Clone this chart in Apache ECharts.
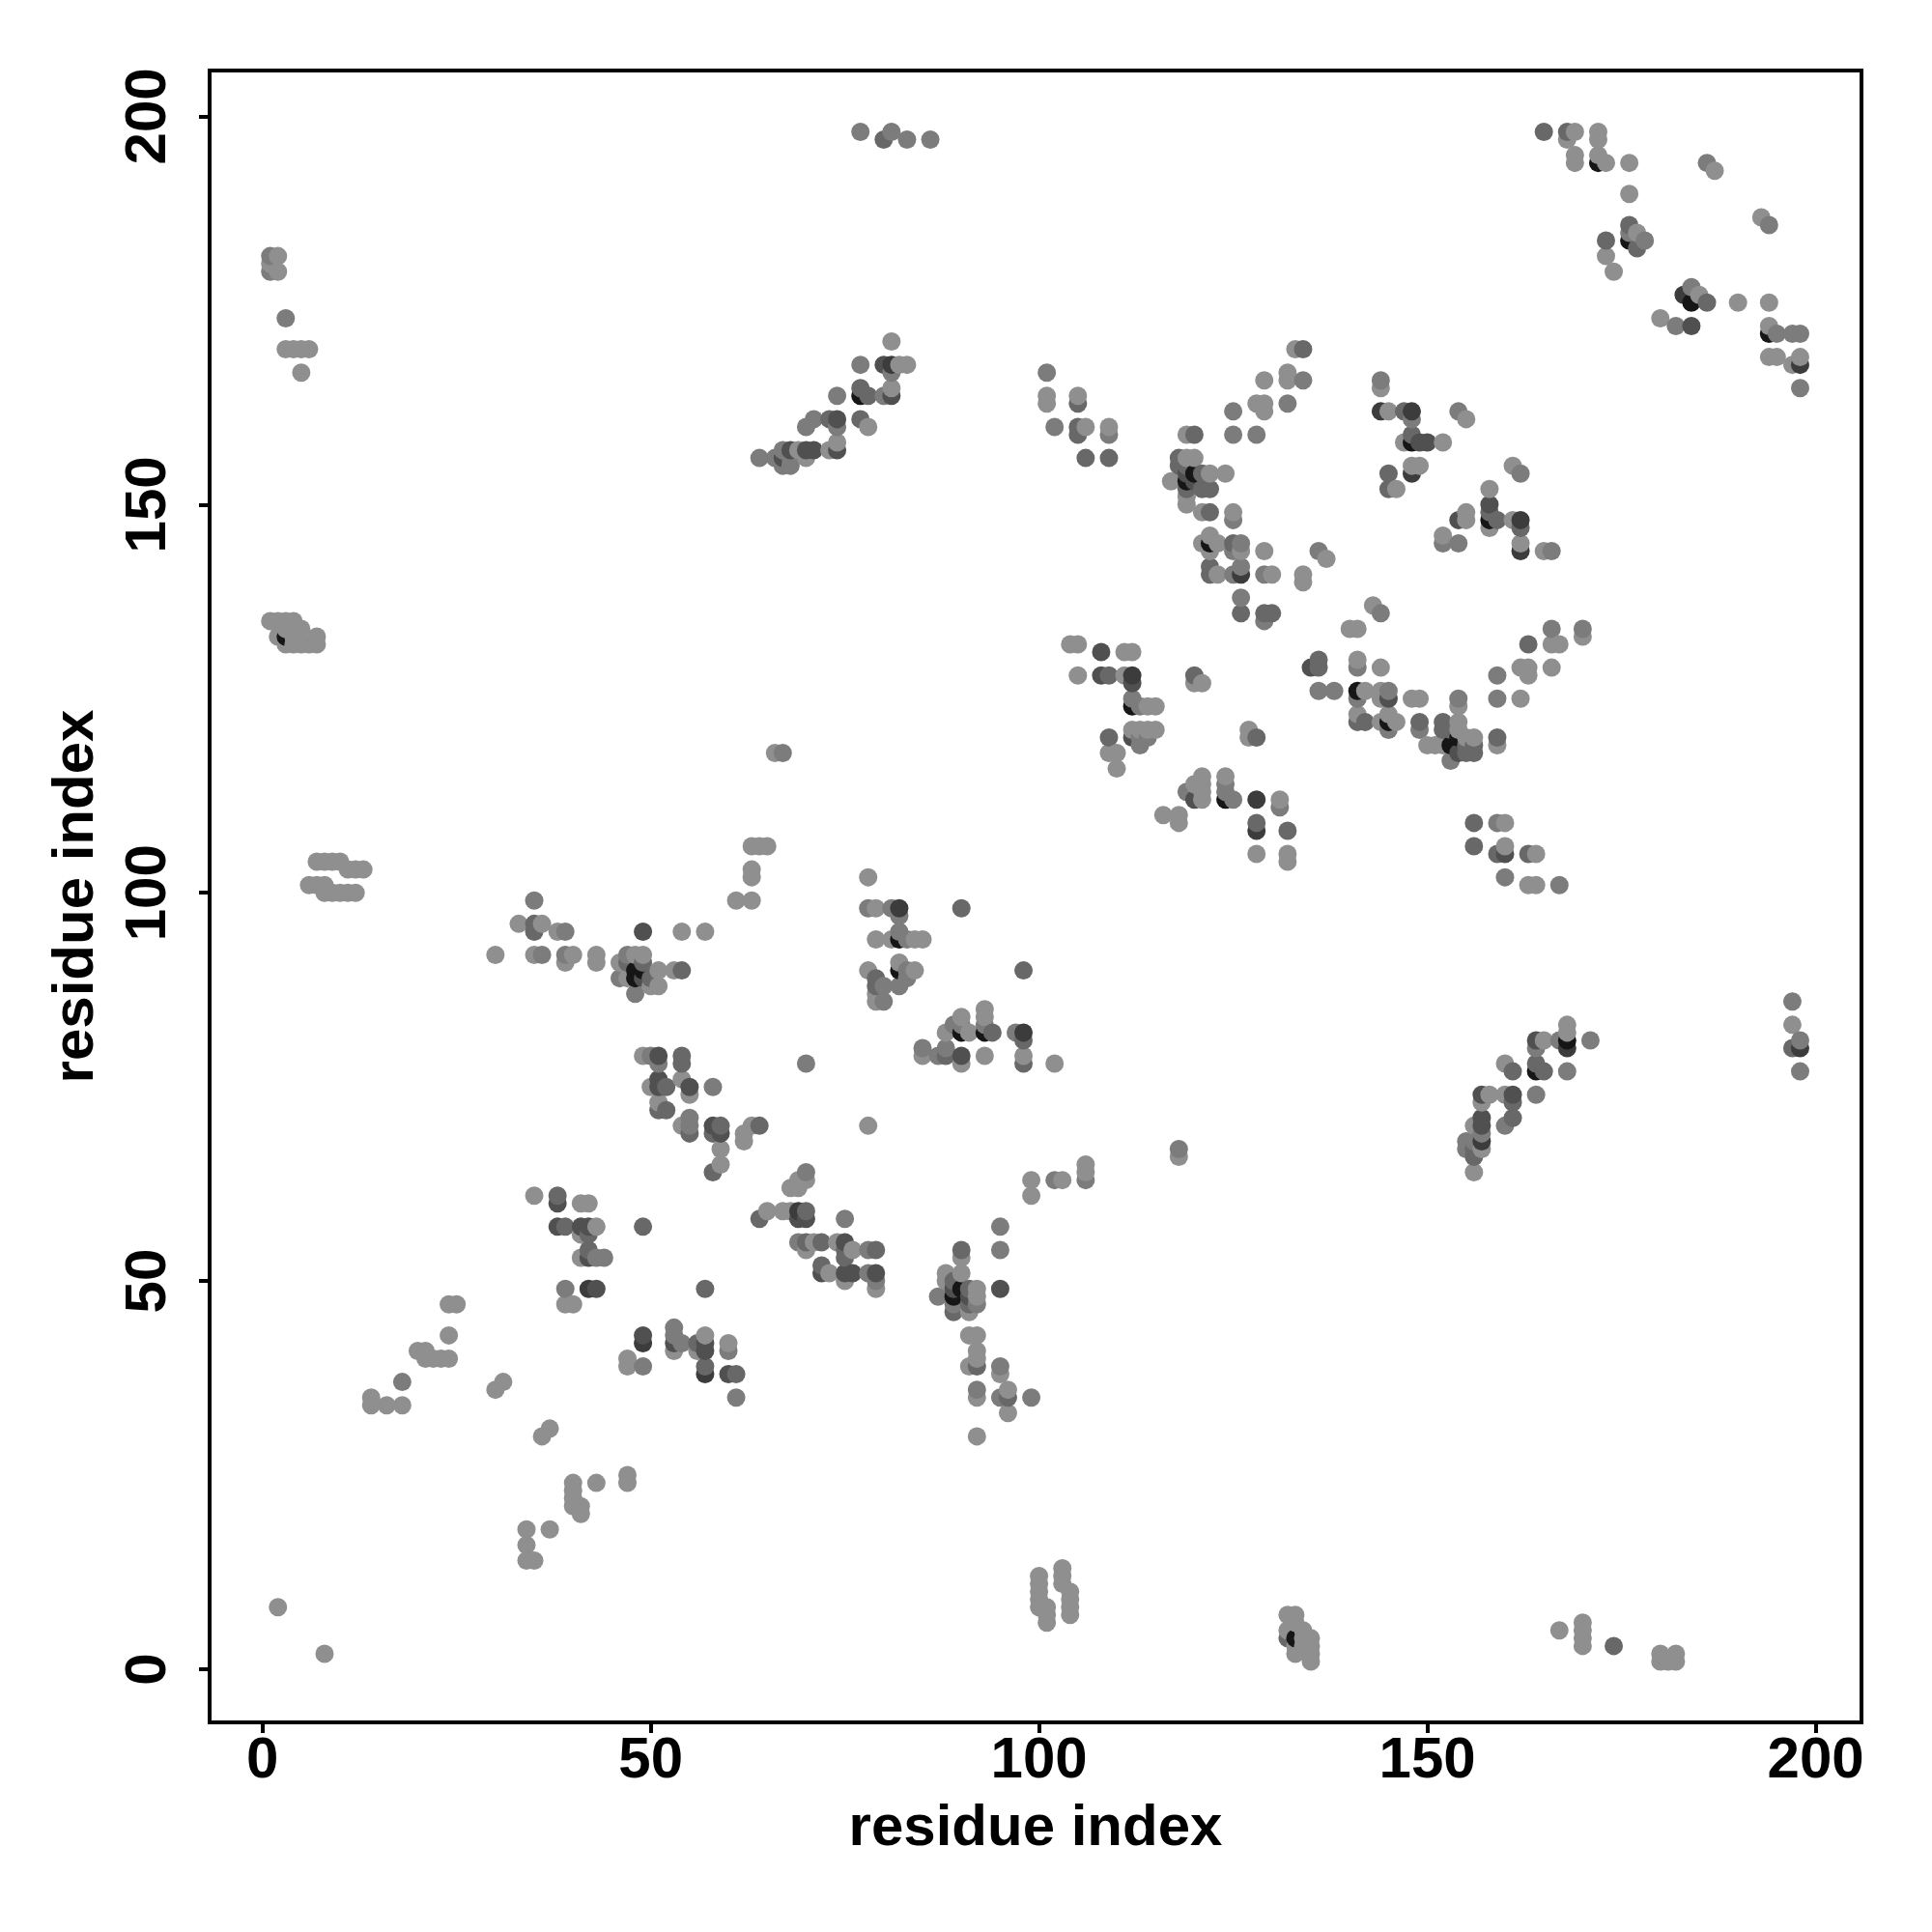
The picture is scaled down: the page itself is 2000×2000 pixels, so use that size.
<!DOCTYPE html>
<html><head><meta charset="utf-8">
<style>html,body{margin:0;padding:0;background:#fff}#c{width:2000px;height:2000px}</style>
<script src="https://cdn.jsdelivr.net/npm/echarts@6/dist/echarts.min.js"></script>
</head><body><div id="c"></div>
<script>
const tickLabels = [0, 50, 100, 150, 200];
const xTitle = 'residue index';
const yTitle = 'residue index';

const blackPts = [[77,164],[112,124],[120,154],[119,153],[122,145],[124,112],[172,194],[194,172],[176,184],[148,158],[158,148],[184,176],[141,126],[145,122],[153,119],[154,120],[164,77],[168,81],[49,90],[48,89],[48,90],[90,82],[93,82],[82,94],[82,90],[89,48],[90,49],[133,4],[3,133]];
const veryDarkPts = [[81,168],[128,112],[126,141],[128,108],[112,128],[144,162],[148,162],[168,80],[198,168],[198,80],[162,148],[162,144],[148,154],[183,177],[82,98],[98,82],[69,59],[42,49],[49,42],[57,38],[157,68]];
const darkPts = [[80,168],[68,157],[70,157],[71,157],[67,156],[74,157],[74,161],[81,164],[120,112],[108,128],[108,131],[112,127],[112,120],[120,153],[154,148],[158,150],[149,158],[150,158],[184,173],[164,81],[157,74],[157,71],[157,70],[161,74],[58,70],[59,69],[51,79],[51,76],[51,75],[55,75],[38,60],[38,57],[41,57],[42,57],[42,53],[43,49],[49,95],[49,43],[53,42],[57,42],[57,41],[60,38],[90,79],[89,49],[91,48],[95,49],[69,58],[70,58],[75,55],[76,51],[75,51],[79,51],[72,51],[49,89],[119,154],[145,125],[162,148],[154,118],[160,105],[135,129]];
const midPts = [[77,165],[78,164],[77,161],[73,161],[105,163],[105,160],[105,159],[120,159],[118,156],[118,155],[119,155],[121,154],[121,152],[122,152],[119,152],[122,149],[125,145],[122,142],[122,141],[126,136],[129,136],[130,136],[134,170],[109,120],[128,120],[109,156],[106,156],[128,109],[132,108],[108,128],[109,128],[120,128],[173,184],[176,186],[177,183],[186,176],[145,154],[145,152],[147,162],[148,159],[158,149],[159,148],[162,147],[136,130],[136,129],[142,122],[141,122],[149,122],[152,122],[152,121],[153,121],[155,118],[156,118],[155,119],[156,119],[159,120],[156,109],[156,106],[159,105],[163,105],[197,80],[164,78],[165,77],[161,77],[161,73],[161,71],[156,67],[156,66],[35,96],[35,95],[47,91],[49,91],[50,89],[38,61],[39,57],[42,56],[49,57],[57,49],[54,79],[54,78],[52,75],[52,72],[51,72],[55,69],[59,70],[58,69],[58,64],[64,70],[42,54],[57,39],[61,38],[56,42],[54,90],[64,58],[70,59],[70,55],[72,55],[72,52],[75,53],[75,54],[79,54],[98,81],[98,78],[90,98],[98,90],[90,54],[89,50],[91,49],[91,47],[89,46],[92,39],[96,35],[174,3],[132,4],[88,79],[94,82],[79,88],[79,89],[165,198],[168,198],[80,197],[163,132]];
const greyPts = [[3,174],[1,182],[1,180],[64,156],[66,156],[77,168],[74,164],[80,164],[71,161],[70,160],[74,160],[67,157],[68,156],[67,155],[68,155],[101,167],[102,160],[109,159],[81,167],[132,163],[134,166],[125,162],[125,159],[128,159],[129,135],[126,138],[126,142],[125,141],[129,141],[126,145],[125,144],[125,148],[67,118],[113,120],[114,120],[113,119],[112,125],[113,124],[119,113],[124,114],[124,113],[125,112],[131,111],[186,194],[194,186],[176,185],[178,184],[182,173],[184,178],[195,172],[197,172],[198,172],[198,165],[144,166],[154,162],[162,154],[148,161],[154,145],[152,145],[166,144],[136,144],[144,136],[170,134],[166,134],[159,128],[159,125],[136,126],[138,126],[141,125],[141,129],[145,126],[145,121],[149,121],[154,125],[153,117],[159,109],[160,102],[167,101],[197,86],[198,81],[198,77],[167,81],[171,81],[164,80],[168,77],[164,74],[160,70],[157,69],[155,68],[156,68],[155,67],[35,99],[39,95],[36,92],[39,92],[46,89],[47,92],[48,87],[58,75],[55,71],[55,70],[50,79],[51,78],[43,53],[44,53],[39,49],[49,39],[53,44],[53,43],[54,42],[60,41],[61,35],[18,37],[69,55],[70,64],[75,58],[78,54],[78,51],[79,50],[78,98],[81,98],[82,97],[82,88],[83,89],[83,90],[83,94],[82,95],[80,88],[80,86],[89,83],[90,83],[88,80],[87,79],[85,80],[93,83],[97,82],[70,78],[118,67],[106,63],[102,63],[95,57],[95,54],[87,48],[89,47],[92,47],[92,36],[95,39],[95,35],[99,35],[77,198],[81,198],[83,197],[86,197]];
const lightPts = [[1,181],[2,182],[2,180],[4,170],[5,170],[3,170],[6,170],[5,167],[1,135],[2,135],[3,135],[4,135],[3,134],[4,134],[5,134],[2,133],[4,133],[3,132],[4,132],[5,132],[6,132],[7,133],[7,132],[81,171],[82,168],[83,168],[81,165],[78,160],[74,158],[73,157],[69,157],[70,156],[101,164],[101,163],[105,164],[106,160],[109,160],[119,159],[119,156],[120,156],[117,153],[122,154],[119,151],[119,150],[121,149],[125,149],[122,146],[121,145],[123,145],[122,144],[129,144],[126,144],[123,141],[130,141],[134,141],[134,140],[129,166],[132,167],[132,166],[133,170],[128,163],[129,163],[129,162],[124,154],[66,118],[104,132],[105,132],[111,131],[112,131],[105,128],[111,128],[114,124],[115,124],[120,127],[121,127],[127,121],[127,120],[112,121],[113,121],[114,121],[115,121],[109,118],[110,118],[110,116],[116,110],[118,110],[118,109],[120,114],[121,115],[121,114],[121,113],[121,112],[124,115],[131,112],[128,105],[132,105],[132,104],[169,198],[168,197],[172,198],[172,197],[169,195],[169,194],[172,195],[173,194],[176,194],[176,190],[187,193],[193,187],[173,182],[174,180],[177,185],[180,174],[185,177],[190,176],[194,176],[194,173],[194,169],[195,169],[197,168],[198,169],[144,165],[145,162],[155,161],[147,158],[152,158],[148,155],[149,155],[146,152],[161,155],[158,152],[158,147],[161,148],[162,145],[155,149],[155,148],[152,146],[165,144],[137,143],[143,137],[140,134],[141,134],[170,133],[166,132],[167,132],[162,129],[163,129],[163,128],[166,129],[162,125],[141,130],[144,129],[142,126],[144,126],[144,125],[148,125],[149,125],[154,124],[141,123],[145,123],[144,122],[146,122],[154,122],[154,121],[150,119],[151,119],[152,119],[155,120],[156,120],[159,119],[160,109],[160,106],[164,105],[163,101],[164,101],[197,83],[168,83],[168,82],[165,81],[160,78],[158,74],[157,73],[160,74],[156,70],[157,67],[156,64],[7,104],[8,104],[9,104],[10,104],[11,103],[12,103],[13,103],[6,101],[7,101],[8,101],[8,100],[9,100],[10,100],[11,100],[12,100],[33,96],[36,96],[38,95],[30,92],[35,92],[40,92],[39,91],[43,92],[43,91],[54,95],[57,95],[48,92],[49,92],[46,91],[47,89],[51,90],[53,90],[50,88],[51,88],[63,106],[64,106],[65,106],[63,103],[63,102],[61,99],[63,99],[49,79],[54,76],[50,75],[51,73],[55,74],[54,70],[62,69],[62,68],[63,70],[59,67],[59,65],[35,61],[41,60],[42,60],[43,57],[41,56],[41,53],[39,47],[40,47],[24,47],[25,47],[24,43],[20,41],[21,41],[21,40],[22,40],[23,40],[24,40],[14,35],[14,34],[16,34],[18,34],[31,37],[30,36],[37,31],[36,30],[40,24],[43,24],[47,25],[47,24],[40,23],[40,22],[40,21],[41,21],[41,20],[34,18],[37,18],[34,16],[34,14],[35,14],[2,8],[8,2],[47,40],[47,39],[53,41],[56,41],[57,43],[60,42],[78,102],[79,98],[79,94],[81,94],[84,94],[85,94],[82,91],[84,90],[78,90],[79,87],[79,86],[90,84],[91,82],[88,82],[85,79],[90,78],[93,85],[93,84],[93,79],[98,79],[102,78],[78,70],[118,66],[106,65],[106,64],[99,63],[99,61],[103,63],[69,63],[70,63],[68,62],[69,62],[65,59],[67,59],[68,59],[71,55],[74,55],[70,54],[76,54],[73,51],[75,50],[79,49],[90,53],[88,51],[90,51],[88,50],[92,49],[92,48],[91,46],[91,43],[92,43],[92,41],[92,40],[91,39],[95,38],[92,35],[96,36],[96,33],[92,30],[100,12],[100,11],[100,10],[100,9],[100,8],[101,8],[101,7],[101,6],[103,13],[103,12],[103,11],[104,10],[104,9],[104,8],[104,7],[132,7],[133,7],[133,6],[134,5],[132,5],[134,4],[135,4],[135,3],[135,2],[135,1],[134,3],[133,3],[133,2],[167,5],[170,6],[170,5],[170,4],[170,3],[180,2],[180,1],[181,1],[182,2],[182,1]];

const shades = [
  [blackPts, '#161616'], [veryDarkPts, '#3c3c3c'], [darkPts, '#505050'],
  [midPts, '#686868'], [greyPts, '#7c7c7c'], [lightPts, '#8f8f8f']
];
const seen = new Map();
shades.forEach(([pts, color]) => pts.forEach(p => {
  const k = p[0] + ',' + p[1];
  if (!seen.has(k)) seen.set(k, { value: p, itemStyle: { color } });
}));
const points = [...seen.values()].sort((a, b) => a.value[0] - b.value[0] || a.value[1] - b.value[1]);

const font = 'Liberation Sans';
const tickStyle = { show: true, length: 11, inside: false, customValues: tickLabels, lineStyle: { color: '#000', width: 4 } };
const chart = echarts.init(document.getElementById('c'), null, { renderer: 'canvas', width: 2000, height: 2000 });
chart.setOption({
  animation: false,
  backgroundColor: '#fff',
  grid: { left: 217, top: 73, width: 1710, height: 1710, show: true, borderColor: '#000', borderWidth: 4, backgroundColor: 'transparent' },
  xAxis: {
    type: 'value', min: -6.8, max: 205.9, splitLine: { show: false }, axisLine: { show: false, onZero: false },
    axisTick: tickStyle,
    axisLabel: { customValues: tickLabels, color: '#000', fontFamily: font, fontWeight: 'bold', fontSize: 60, margin: 10, showMinLabel: true, showMaxLabel: true },
    name: xTitle, nameLocation: 'middle', nameGap: 80,
    nameTextStyle: { color: '#000', fontFamily: font, fontWeight: 'bold', fontSize: 60 }
  },
  yAxis: {
    type: 'value', min: -6.84, max: 205.9, splitLine: { show: false }, axisLine: { show: false, onZero: false },
    axisTick: tickStyle,
    axisLabel: { customValues: tickLabels, color: '#000', fontFamily: font, fontWeight: 'bold', fontSize: 60, rotate: 90, margin: 33, align: 'center', verticalAlign: 'bottom' },
    name: yTitle, nameLocation: 'middle', nameGap: 108, nameRotate: 90, nameMoveOverlap: false,
    nameTextStyle: { color: '#000', fontFamily: font, fontWeight: 'bold', fontSize: 60 }
  },
  series: [{
    type: 'scatter', symbol: 'circle', symbolSize: 19, data: points, large: false, progressive: 0,
    itemStyle: { opacity: 1 }, emphasis: { disabled: true }
  }]
});
</script></body></html>
